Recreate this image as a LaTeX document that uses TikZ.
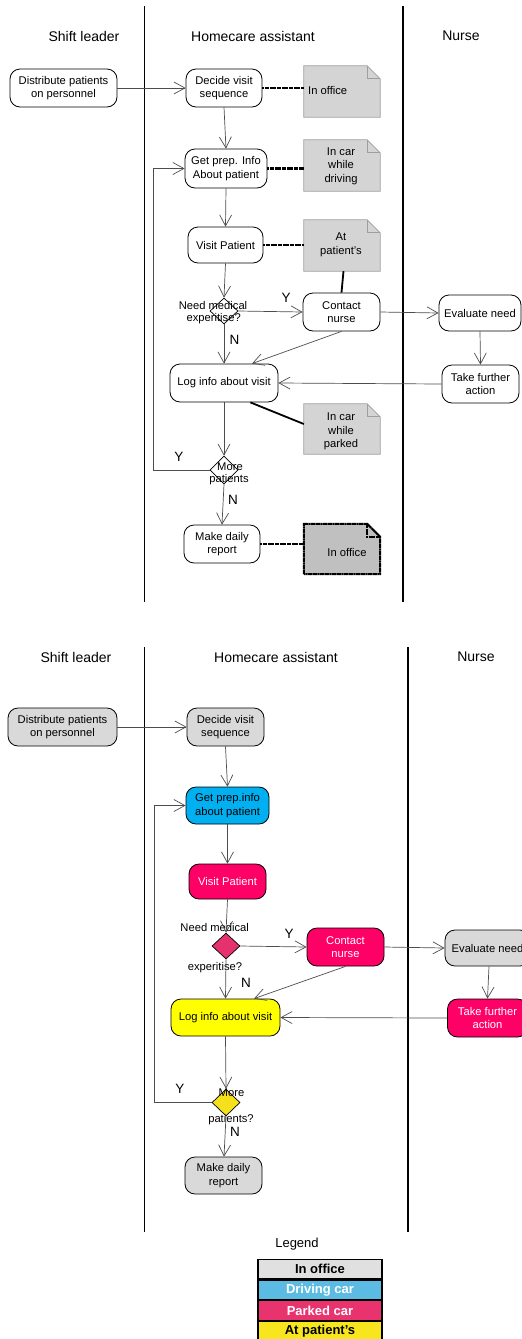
\documentclass[tikz,border=0pt]{standalone}
\usepackage{fontspec}
\setmainfont{Liberation Sans}
\usetikzlibrary{arrows.meta,shapes.geometric,calc}
\definecolor{linec}{HTML}{4D4D4D}
\definecolor{notefill}{HTML}{D4D4D4}
\definecolor{noteedge}{HTML}{9E9E9E}
\definecolor{notedark}{HTML}{C0C0C0}
\definecolor{grayact}{HTML}{D9D9D9}
\definecolor{cyanact}{HTML}{00B0F0}
\definecolor{magact}{HTML}{FF0066}
\definecolor{pinkdia}{HTML}{E5326F}
\definecolor{yelact}{HTML}{FFFF00}
\definecolor{yeldia}{HTML}{F5E11B}
\definecolor{legblue}{HTML}{5CBBE3}
\definecolor{legpink}{HTML}{E8336E}
\definecolor{leggray}{HTML}{E0E0E0}
\definecolor{legyel}{HTML}{F7E51E}
\tikzset{
 act/.style={draw=black, line width=0.8pt, rounded corners=10pt, inner sep=0pt, align=center, font=\fontsize{11.2}{13.5}\selectfont},
 dec/.style={draw=black, line width=0.7pt, shape=diamond, inner sep=0pt},
 flow/.style={draw=linec, line width=0.7pt, -{Straight Barb[length=11pt,width=12pt]}},
 lane/.style={draw=black, line width=1.8pt},
 hdr/.style={font=\fontsize{14}{16}\selectfont, inner sep=0pt},
 lbl/.style={font=\fontsize{11.2}{13}\selectfont, inner sep=0pt},
 yn/.style={font=\fontsize{13.5}{15}\selectfont, inner sep=0pt},
 notebox/.style={inner sep=0pt},
 notepaint/.style={draw=noteedge, line width=0.7pt},
 notedarkpaint/.style={draw=black, line width=2pt, dash pattern=on 2pt off 0.4pt},
 notetie/.style={draw=black, line width=2.2pt, dash pattern=on 2pt off 0.4pt},
 notelink/.style={draw=black, line width=1.8pt},
 notetxt/.style={font=\fontsize{11.2}{13.5}\selectfont, align=center, inner sep=0pt},
 legrow/.style={draw=black, line width=1.2pt, minimum width=124pt, minimum height=19.5pt, inner sep=0pt, font=\fontsize{13}{15}\selectfont\bfseries},
}
\newcommand\dogear[3]{%
 \path[#3, fill=#2] (#1.south west) -- (#1.north west) -- ([xshift=-13pt]#1.north east) -- ([yshift=-13pt]#1.north east) -- (#1.south east) -- cycle;
 \path[#3] ([xshift=-13pt]#1.north east) -- ++(0,13) -- ([yshift=-13pt]#1.north east);
}
\begin{document}
\begin{tikzpicture}[x=1pt,y=-1pt]
\useasboundingbox (0,0) rectangle (522,1339);
% ================= TOP DIAGRAM =================
\coordinate (l1a) at (144.5,6); \coordinate (l1b) at (144.5,602);
\coordinate (l2a) at (403,6); \coordinate (l2b) at (403,602);
\draw[lane] (l1a) -- (l1b);
\draw[lane] (l2a) -- (l2b);
\node[hdr] (h1a) at (84,36) {Shift leader};
\node[hdr] (h1b) at (253,36) {Homecare assistant};
\node[hdr] (h1c) at (461,36) {Nurse};

\node[act, minimum width=107pt, minimum height=38pt] (dist1) at (63.5,88) {Distribute patients\\on personnel};
\node[act, minimum width=76pt, minimum height=38pt] (dec1) at (224,88) {Decide visit\\sequence};
\node[act, minimum width=82pt, minimum height=39pt] (prep1) at (226,168.5) {Get prep. Info\\About patient};
\node[act, minimum width=75pt, minimum height=36pt] (visit1) at (225.5,245) {Visit Patient};
\node[dec, minimum width=28pt, minimum height=26pt] (need1) at (224,311) {};
\node[act, minimum width=77pt, minimum height=38pt] (contact1) at (341.5,312) {Contact\\nurse};
\node[act, minimum width=82pt, minimum height=36pt] (eval1) at (480,313) {Evaluate need};
\node[act, minimum width=77pt, minimum height=38pt] (take1) at (480.5,384) {Take further\\action};
\node[act, minimum width=108pt, minimum height=38pt] (log1) at (224,383) {Log info about visit};
\node[dec, minimum width=28pt, minimum height=28pt] (more1) at (224,470) {};
\node[act, minimum width=76pt, minimum height=38pt] (make1) at (222,544) {Make daily\\report};

\node[lbl] (t1need) at (213,305) {Need medical};
\node[lbl] (t1exp) at (213.7,319) {experitise?};
\node[lbl] (t1more) at (230,466.5) {More};
\node[lbl] (t1pat) at (229,480) {patients};

% notes
\node[notebox, minimum width=76pt, minimum height=51pt] (office1) at (342,91.5) {};
\node[notebox, minimum width=76pt, minimum height=51pt] (drive1) at (342,165.5) {};
\node[notebox, minimum width=76pt, minimum height=51pt] (pat1) at (342,245.5) {};
\node[notebox, minimum width=76pt, minimum height=50pt] (park1) at (342,429) {};
\node[notebox, minimum width=76pt, minimum height=50pt] (office1b) at (342,549) {};
\dogear{office1}{notefill}{notepaint}
\dogear{drive1}{notefill}{notepaint}
\dogear{pat1}{notefill}{notepaint}
\dogear{park1}{notefill}{notepaint}
\dogear{office1b}{notedark}{notedarkpaint}
\node[notetxt, anchor=west] (n1t) at (308,90) {In office};
\node[notetxt] (n2t) at (341,166) {In car\\while\\driving};
\node[notetxt] (n3t) at (341,245) {At\\patient's};
\node[notetxt] (n4t) at (341,431.5) {In car\\while\\parked};
\node[notetxt] (n5t) at (347,552) {In office};

\draw[notetie] (dec1.east) -- (dec1.east -| office1.west);
\draw[notetie] (prep1.east) -- (prep1.east -| drive1.west);
\draw[notetie] (visit1.east) -- (visit1.east -| pat1.west);
\draw[notelink] ([xshift=1.5pt]pat1.south) -- (contact1.north);
\draw[notelink] ([xshift=-28pt]log1.south east) -- ([yshift=5pt]park1.west);
\draw[notetie] (make1.east) -- (make1.east -| office1b.west);

% flows
\draw[flow] (dist1.east) -- (dec1.west);
\draw[flow] (dec1.south) -- (prep1.north);
\draw[flow] (prep1.south) -- (visit1.north);
\draw[flow] (visit1.south) -- (need1.north);
\draw[flow] (need1.east) -- (contact1.west);
\draw[flow] (need1.south) -- (log1.north);
\draw[flow] (contact1.south) -- ([xshift=28pt]log1.north);
\draw[flow] (contact1.east) -- (eval1.west);
\draw[flow] (eval1.south) -- (take1.north);
\draw[flow] (take1.west) -- (log1.east);
\draw[flow] (log1.south) -- (more1.north);
\draw[flow] (more1.west) -- ++(-56,0) |- (prep1.west);
\draw[flow] (more1.south) -- (make1.north);
\node[yn] (y1a) at (286,298) {Y};
\node[yn] (n1a) at (234.5,340) {N};
\node[yn] (y1b) at (179,457) {Y};
\node[yn] (n1b) at (233,500) {N};

% ================= BOTTOM DIAGRAM =================
\coordinate (l3a) at (144.5,647); \coordinate (l3b) at (144.5,1232);
\coordinate (l4a) at (407.7,647); \coordinate (l4b) at (407.7,1232);
\draw[lane] (l3a) -- (l3b);
\draw[lane] (l4a) -- (l4b);
\node[hdr] (h2a) at (76,657) {Shift leader};
\node[hdr] (h2b) at (276,657) {Homecare assistant};
\node[hdr] (h2c) at (476,657) {Nurse};

\node[act, fill=grayact, minimum width=109pt, minimum height=38pt] (dist2) at (62.5,727) {Distribute patients\\on personnel};
\node[act, fill=grayact, minimum width=77pt, minimum height=38pt] (dec2) at (225.5,727) {Decide visit\\sequence};
\node[act, fill=cyanact, minimum width=83pt, minimum height=37pt] (prep2) at (227.5,805.5) {Get prep.info\\about patient};
\node[act, fill=magact, text=white, minimum width=77pt, minimum height=35pt] (visit2) at (227.5,881.5) {Visit Patient};
\node[dec, fill=pinkdia, minimum width=28pt, minimum height=26pt] (need2) at (226,946) {};
\node[act, fill=magact, text=white, minimum width=77pt, minimum height=38pt] (contact2) at (345.5,947) {Contact\\nurse};
\node[act, fill=grayact, minimum width=85pt, minimum height=36pt] (eval2) at (487.5,948) {Evaluate need};
\node[act, fill=magact, text=white, minimum width=80pt, minimum height=38pt] (take2) at (487.5,1018) {Take further\\action};
\node[act, fill=yelact, minimum width=109pt, minimum height=37pt] (log2) at (225.5,1017.5) {Log info about visit};
\node[dec, fill=yeldia, minimum width=28pt, minimum height=27pt] (more2) at (226,1102.5) {};
\node[act, fill=grayact, minimum width=77pt, minimum height=37pt] (make2) at (223.5,1175.5) {Make daily\\report};

\node[lbl] (t2need) at (214.7,927) {Need medical};
\node[lbl] (t2exp) at (215,967.5) {experitise?};
\node[lbl] (t2more) at (231.5,1092.5) {More};
\node[lbl] (t2pat) at (231,1120) {patients?};

\draw[flow] (dist2.east) -- (dec2.west);
\draw[flow] (dec2.south) -- (prep2.north);
\draw[flow] (prep2.south) -- (visit2.north);
\draw[flow] (visit2.south) -- (need2.north);
\draw[flow] (need2.east) -- (contact2.west);
\draw[flow] (need2.south) -- (log2.north);
\draw[flow] (contact2.south) -- ([xshift=28.5pt]log2.north);
\draw[flow] (contact2.east) -- (eval2.west);
\draw[flow] ([xshift=1.5pt]eval2.south) -- (take2.north);
\draw[flow] (take2.west) -- (log2.east);
\draw[flow] (log2.south) -- (more2.north);
\draw[flow] (more2.west) -- ++(-57,0) |- (prep2.west);
\draw[flow] (more2.south) -- ([xshift=0.5pt]make2.north);
\node[yn] (y2a) at (289,934) {Y};
\node[yn] (n2a) at (246,983) {N};
\node[yn] (y2b) at (180,1089) {Y};
\node[yn] (n2b) at (235,1132) {N};

% legend
\node[hdr, font=\fontsize{13}{15}\selectfont] (legt) at (297,1244) {Legend};
\node[legrow, fill=leggray] (lg1) at (320,1269) {In office};
\node[legrow, fill=legblue, text=white, anchor=north] (lg2) at (lg1.south) {Driving car};
\node[legrow, fill=legpink, text=white, anchor=north] (lg3) at (lg2.south) {Parked car};
\node[legrow, fill=legyel, anchor=north] (lg4) at (lg3.south) {At patient's};
\end{tikzpicture}
\end{document}
